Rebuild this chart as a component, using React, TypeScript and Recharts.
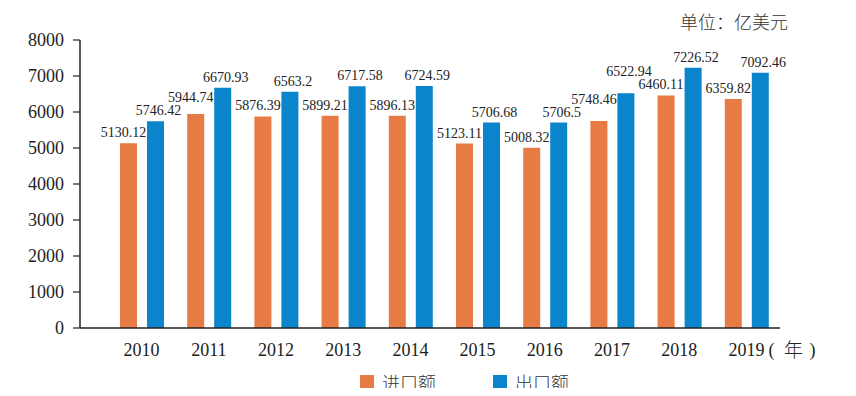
import React from 'react';
import { BarChart, Bar, XAxis, YAxis, LabelList, Legend, Customized } from 'recharts';

const years = ['2010', '2011', '2012', '2013', '2014', '2015', '2016', '2017', '2018', '2019'];
const importValues = [5130.12, 5944.74, 5876.39, 5899.21, 5896.13, 5123.11, 5008.32, 5748.46, 6460.11, 6359.82];
const exportValues = [5746.42, 6670.93, 6563.2, 6717.58, 6724.59, 5706.68, 5706.5, 6522.94, 7226.52, 7092.46];
const yTicks = [0, 1000, 2000, 3000, 4000, 5000, 6000, 7000, 8000];
const importName = '进口额';
const exportName = '出口额';
const unitText = '单位：亿美元';
const yearSuffix = '年';
const seriesOrder = ['imp', 'exp'];

const IMPORT_COLOR = '#E67B45';
const EXPORT_COLOR = '#0A84CB';
const SERIF = '"Liberation Serif", "Times New Roman", serif';
const CJK = '"Noto Sans CJK SC", "Noto Sans", sans-serif';

const LABEL_FONT = 14;
const LABEL_OFFSET = 6;
const LABEL_H = 11;
const LABEL_GAP = 2;

const data = years.map((y, i) => ({ year: y, imp: importValues[i], exp: exportValues[i] }));

// Label sequence left-to-right: imp0, exp0, imp1, exp1, ...
const seqValues: number[] = [];
years.forEach((_, i) => {
  seqValues.push(importValues[i]);
  seqValues.push(exportValues[i]);
});

// Simple collision resolver: neighbouring labels that would collide -> lift the taller bar's label.
const resolveBaselines = (plotBottom: number, k: number) => {
  const b = seqValues.map((v) => plotBottom - v * k - LABEL_OFFSET);
  for (let j = 1; j < b.length; j++) {
    const a = j - 1;
    const overlap = Math.abs(b[a] - b[j]) < LABEL_H + LABEL_GAP;
    if (overlap) {
      if (seqValues[j] >= seqValues[a]) {
        b[j] = Math.min(b[j], b[a] - LABEL_H - LABEL_GAP);
      } else {
        b[a] = Math.min(b[a], b[j] - LABEL_H - LABEL_GAP);
      }
    }
  }
  return b;
};

const XTick = (props: any) => {
  const { x, y, payload, index } = props;
  const last = index === years.length - 1;
  return (
    <g>
      <text x={x} y={y} dy="0.71em" textAnchor="middle" fontFamily={SERIF} fontSize={18} fill="#222">
        {payload.value}
      </text>
      {last && (
        <g>
          <text x={x + 22} y={y} dy="0.71em" textAnchor="start" fontFamily={SERIF} fontSize={18} fill="#222">(</text>
          <text x={x + 47} y={y} dy="0.75em" textAnchor="middle" fontFamily={CJK} fontWeight={300} fontSize={19} fill="#222">{yearSuffix}</text>
          <text x={x + 63} y={y} dy="0.71em" textAnchor="start" fontFamily={SERIF} fontSize={18} fill="#222">)</text>
        </g>
      )}
    </g>
  );
};

const LegendContent = (props: any) => {
  const payload = [...(props.payload || [])].sort(
    (a: any, b: any) => seriesOrder.indexOf(a.dataKey) - seriesOrder.indexOf(b.dataKey)
  );
  return (
    <div style={{ display: 'flex', alignItems: 'center', height: 20 }}>
      {payload.map((p: any, i: number) => (
        <div key={i} style={{ display: 'flex', alignItems: 'center', marginRight: i === 0 ? 57 : 0 }}>
          <div style={{ width: 14, height: 14, background: p.color, marginRight: 8 }} />
          <span style={{ fontFamily: CJK, fontWeight: 300, fontSize: 18, color: '#333', lineHeight: '20px' }}>{p.value}</span>
        </div>
      ))}
    </div>
  );
};

const UnitLabel = () => (
  <text x={780} y={21} textAnchor="end" fontFamily={CJK} fontWeight={300} fontSize={18} fill="#333">
    {unitText}
  </text>
);

const makeLabel = (dx: number, seriesIdx: number) => (props: any) => {
  const { x, y, width, height, value, index } = props;
  const plotBottom = y + height;
  const k = value ? height / value : 0;
  const baselines = resolveBaselines(plotBottom, k);
  const by = baselines[index * 2 + seriesIdx];
  return (
    <text x={x + width / 2 + dx} y={by} textAnchor="middle" fontFamily={SERIF} fontSize={LABEL_FONT} fill="#222">
      {value}
    </text>
  );
};

const ImportLabel = makeLabel(-5, 0);
const ExportLabel = makeLabel(3, 1);

export default function App() {
  return (
    <div style={{ width: 840, height: 380, background: '#fff' }}>
      <BarChart
        width={840}
        height={380}
        data={data}
        margin={{ top: 32, right: 68, left: 12, bottom: 30 }}
        barSize={17}
        barGap={10}
      >
        <XAxis
          dataKey="year"
          axisLine={{ stroke: '#222', strokeWidth: 1.5 }}
          tickLine={false}
          tickSize={0}
          tickMargin={15}
          height={30}
          padding={{ left: 28, right: 0 }}
          tick={<XTick />}
          interval={0}
        />
        <YAxis
          domain={[0, 8000]}
          ticks={yTicks}
          interval={0}
          width={60}
          axisLine={{ stroke: '#222', strokeWidth: 1.5 }}
          tickLine={{ stroke: '#222', strokeWidth: 1.2 }}
          tickSize={7}
          tickMargin={9}
          tick={{ fontFamily: SERIF, fontSize: 18, fill: '#222' }}
        />
        <Bar dataKey="imp" name={importName} fill={IMPORT_COLOR} isAnimationActive={false}>
          <LabelList dataKey="imp" content={<ImportLabel />} />
        </Bar>
        <Bar dataKey="exp" name={exportName} fill={EXPORT_COLOR} isAnimationActive={false}>
          <LabelList dataKey="exp" content={<ExportLabel />} />
        </Bar>
        <Legend
          layout="horizontal"
          verticalAlign="middle"
          align="center"
          content={<LegendContent />}
          wrapperStyle={{ left: 352, top: 364, width: 'auto' }}
        />
        <Customized component={UnitLabel} />
      </BarChart>
    </div>
  );
}
